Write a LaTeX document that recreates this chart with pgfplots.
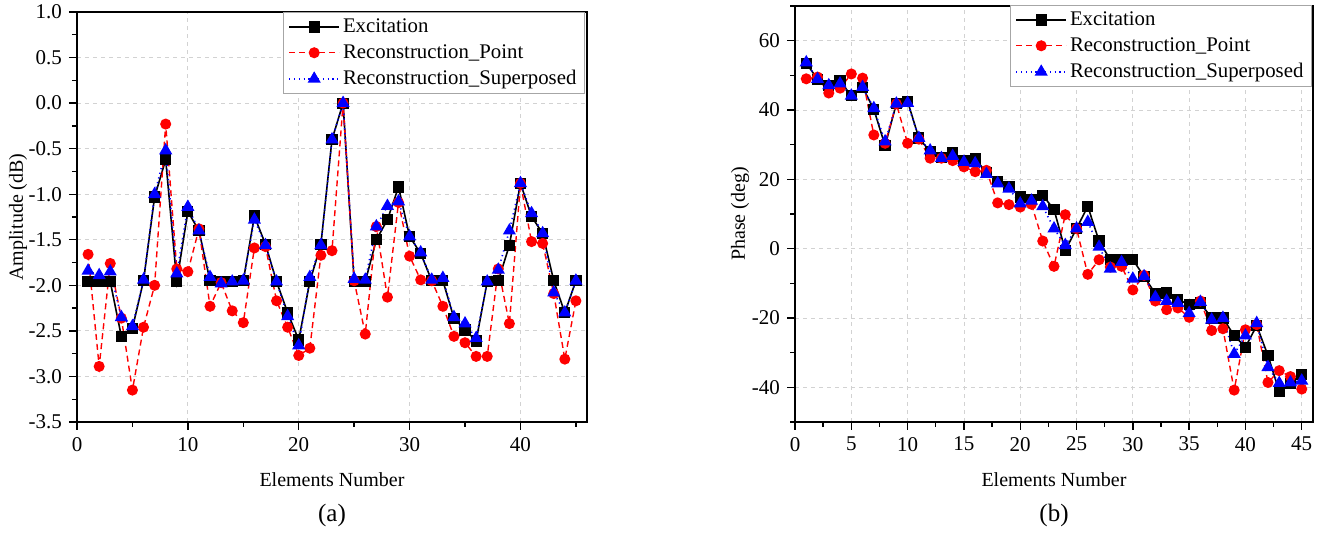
\documentclass[border=0pt]{standalone}
\usepackage{fontspec}
\setmainfont{Liberation Serif}
\usepackage{pgfplots}
\pgfplotsset{compat=1.18}
\usepackage{pgfplotstable}

\pgfplotstableread{
n e p s
1 -1.96 -1.66 -1.84
2 -1.96 -2.89 -1.89
3 -1.96 -1.76 -1.85
4 -2.56 -2.36 -2.35
5 -2.47 -3.15 -2.45
6 -1.95 -2.46 -1.94
7 -1.03 -2.00 -1.00
8 -0.62 -0.23 -0.52
9 -1.96 -1.82 -1.87
10 -1.19 -1.85 -1.14
11 -1.40 -1.38 -1.40
12 -1.95 -2.23 -1.91
13 -1.96 -1.97 -1.98
14 -1.96 -2.28 -1.96
15 -1.95 -2.41 -1.95
16 -1.24 -1.59 -1.28
17 -1.55 -1.575 -1.56
18 -1.96 -2.17 -1.96
19 -2.30 -2.46 -2.34
20 -2.60 -2.77 -2.66
21 -1.96 -2.69 -1.91
22 -1.55 -1.67 -1.56
23 -0.40 -1.62 -0.40
24 0.00 0.00 0.00
25 -1.96 -1.95 -1.93
26 -1.96 -2.535 -1.94
27 -1.50 -1.355 -1.355
28 -1.28 -2.13 -1.13
29 -0.92 -1.09 -1.08
30 -1.465 -1.68 -1.465
31 -1.65 -1.94 -1.64
32 -1.95 -1.95 -1.94
33 -1.95 -2.23 -1.92
34 -2.36 -2.56 -2.35
35 -2.49 -2.63 -2.42
36 -2.61 -2.78 -2.58
37 -1.96 -2.78 -1.96
38 -1.95 -1.82 -1.83
39 -1.56 -2.42 -1.40
40 -0.88 -0.88 -0.88
41 -1.245 -1.52 -1.21
42 -1.43 -1.54 -1.43
43 -1.95 -2.09 -2.08
44 -2.30 -2.81 -2.30
45 -1.95 -2.17 -1.95
}\amp

\pgfplotstableread{
n e p s
1 53.5 49.0 53.7
2 48.9 49.5 48.9
3 47.1 44.9 47.1
4 48.4 46.3 47.6
5 44.1 50.4 44.1
6 46.6 49.2 46.6
7 40.2 32.8 40.5
8 29.7 30.4 30.9
9 41.8 41.8 41.8
10 42.5 30.4 42.0
11 31.9 31.6 31.9
12 28.0 26.1 28.3
13 26.4 26.1 26.1
14 27.7 25.4 26.7
15 25.3 23.6 25.0
16 26.0 22.2 24.6
17 21.9 22.6 21.5
18 19.3 13.2 18.8
19 18.0 12.7 17.3
20 14.9 12.0 13.0
21 14.2 12.8 13.8
22 15.4 2.2 12.2
23 11.3 -5.1 5.8
24 -0.5 9.8 1.0
25 5.8 5.8 5.8
26 12.2 -7.4 7.7
27 2.2 -3.2 0.5
28 -3.2 -5.3 -5.8
29 -3.2 -5.1 -3.9
30 -3.2 -11.9 -8.7
31 -8.0 -7.7 -8.0
32 -13.0 -15.1 -14.0
33 -12.8 -17.6 -15.1
34 -14.7 -17.1 -15.7
35 -16.1 -19.8 -18.6
36 -15.7 -15.1 -15.4
37 -20.0 -23.6 -20.5
38 -20.0 -23.1 -20.0
39 -25.1 -40.8 -30.4
40 -28.4 -23.4 -25.1
41 -22.2 -21.9 -21.5
42 -30.8 -38.6 -34.2
43 -41.2 -35.2 -38.8
44 -39.0 -36.9 -38.6
45 -36.3 -40.5 -38.1
}\pha

\pgfplotsset{
 common/.style={
  scale only axis, clip=false,
  axis line style={line width=0.75pt},
  tick style={black, line width=0.7pt},
  tick align=outside, tick pos=left,
  major tick length=4pt, minor tick length=2.5pt,
  grid=major,
  major grid style={gray!35, dash pattern=on 2pt off 2pt, line width=0.4pt},
  tick label style={font=\fontsize{10.5}{12}\selectfont},
  /pgf/number format/assume math mode=true,
  label style={font=\fontsize{10.3}{12}\selectfont},
  legend style={at={(1,1)}, anchor=north east, xshift=-1pt, draw=gray!70, line width=0.6pt,
    fill=white, font=\fontsize{10.4}{12}\selectfont,
    inner xsep=2.5pt, inner ysep=1.5pt, row sep=1.5pt, nodes={inner sep=1.5pt}},
  legend cell align=left,
  legend image code/.code={\draw[mark repeat=2,mark phase=2] plot coordinates {(0pt,0pt)(12.5pt,0pt)(25pt,0pt)};},
 },
 ex/.style={black, line width=0.8pt, mark=square*, mark size=2.4pt, mark options={solid}},
 rp/.style={red, line width=0.7pt, dash pattern=on 3pt off 2pt, mark=*, mark size=2.4pt, mark options={solid}},
 rs/.style={blue, line width=0.8pt, dash pattern=on 0.6pt off 1.8pt, mark=triangle*, mark size=3pt, mark options={solid}},
}

\begin{document}
\begin{tikzpicture}
\useasboundingbox (0,0) rectangle (661pt,267.5pt);

\begin{axis}[common,
  at={(38.5pt,56.5pt)}, anchor=south west,
  width=255pt, height=205pt,
  xmin=0, xmax=46, ymin=-3.5, ymax=1.0,
  xtick={0,10,20,30,40}, minor xtick={5,15,25,35,45},
  ytick={-3.5,-3,...,1.0}, minor ytick={-3.25,-2.75,...,0.75},
  yticklabel style={/pgf/number format/.cd, fixed, fixed zerofill, precision=1},
  xlabel={Elements Number}, ylabel={Amplitude (dB)},
  every axis x label/.style={at={(axis description cs:0.5,-0.1415)}, anchor=center},
  every axis y label/.style={at={(axis description cs:-0.1157,0.5)}, anchor=center, rotate=90},
]
\addplot[ex] table[x=n,y=e] {\amp};
\addplot[rp] table[x=n,y=p] {\amp};
\addplot[rs] table[x=n,y=s] {\amp};
\legend{Excitation, Reconstruction\_Point, Reconstruction\_Superposed}
\node[font=\fontsize{12.5}{14}\selectfont] at (axis description cs:0.5,-0.227) {(a)};
\end{axis}

\begin{axis}[common,
  at={(397.5pt,56.5pt)}, anchor=south west,
  width=259pt, height=208pt,
  xmin=0, xmax=46, ymin=-50, ymax=70,
  xtick={0,5,...,45}, minor xtick={2.5,7.5,...,45},
  ytick={-40,-20,...,60}, minor ytick={-50,-30,...,70},
  xlabel={Elements Number}, ylabel={Phase (deg)},
  every axis x label/.style={at={(axis description cs:0.5,-0.139)}, anchor=center},
  every axis y label/.style={at={(axis description cs:-0.106,0.5)}, anchor=center, rotate=90},
  legend style={yshift=0.5pt, xshift=0.5pt},
]
\addplot[ex] table[x=n,y=e] {\pha};
\addplot[rp] table[x=n,y=p] {\pha};
\addplot[rs] table[x=n,y=s] {\pha};
\legend{Excitation, Reconstruction\_Point, Reconstruction\_Superposed}
\node[font=\fontsize{12.5}{14}\selectfont] at (axis description cs:0.5,-0.2236) {(b)};
\end{axis}
\end{tikzpicture}
\end{document}
